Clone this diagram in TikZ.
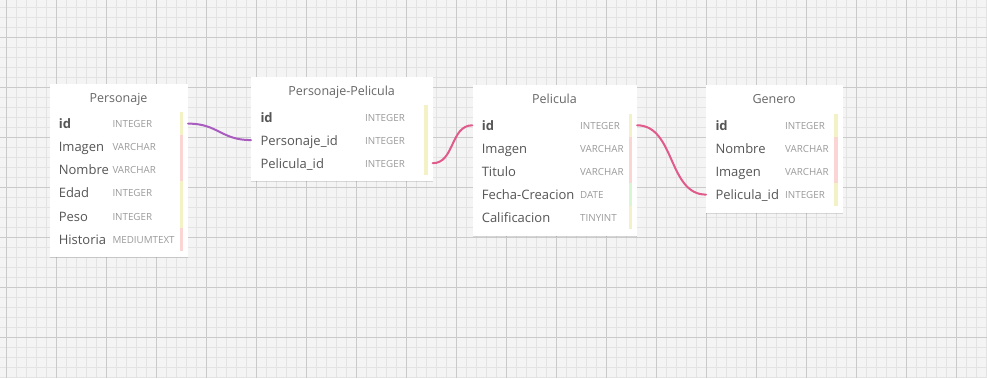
\documentclass[tikz,border=0pt]{standalone}
\usepackage{fontspec}
\setmainfont{Open Sans}
\usetikzlibrary{shadows}

\definecolor{paper}{HTML}{F4F4F4}
\definecolor{gridminor}{HTML}{E3E3E3}
\definecolor{gridmajor}{HTML}{CACACA}
\definecolor{barY}{HTML}{F3F1C6}
\definecolor{barP}{HTML}{FBD4D4}
\definecolor{barG}{HTML}{D9F5D3}
\definecolor{linkpurple}{HTML}{A95CC0}
\definecolor{linkpink}{HTML}{E05A8B}
\definecolor{nametext}{HTML}{555555}
\definecolor{typetext}{HTML}{9A9A9A}
\definecolor{titletext}{HTML}{666666}

\tikzset{
  tablebox/.style={rectangle, fill=white, inner sep=0pt, anchor=north west,
    drop shadow={shadow xshift=0pt, shadow yshift=-1pt, opacity=0.12, fill=black}},
  rowbox/.style={rectangle, inner sep=0pt, minimum height=23.1, anchor=west},
  tabletitle/.style={inner sep=0pt, anchor=base, text=titletext,
    font=\fontsize{12.5}{14}\selectfont},
  fieldname/.style={inner sep=0pt, anchor=base west, text=nametext,
    font=\fontsize{13}{15}\selectfont},
  fieldtype/.style={inner sep=0pt, anchor=base west, text=typetext,
    font=\fontsize{9.8}{11}\selectfont},
  link/.style={line width=2pt, line cap=round},
}

% #1 prefix, #2 left, #3 top, #4 width, #5 height, #6 type column offset,
% #7 title, #8 rows as name/type/bar colour
\newcommand\dbtable[8]{%
  \node[tablebox, minimum width=#4, minimum height=#5] (#1) at (#2,#3) {};
  \node[tabletitle] (#1-title) at (#2+#4/2,#3+18.7) {#7};
  \foreach \fname/\ftype/\fcol [count=\i] in {#8} {
    \pgfmathsetmacro\ry{#3+40.3+(\i-1)*23.1}
    \node[rowbox, minimum width=#4] (#1-\i) at (#2,\ry) {};
    \fill[\fcol] (#2+#4-8,\ry-11.55) rectangle (#2+#4-4.3,\ry+11.55);
    \node[fieldname] (#1-\i-name) at (#2+9.3,\ry+5) {\ifnum\i=1 \bfseries\fi\fname};
    \node[fieldtype] (#1-\i-type) at (#2+#6,\ry+4) {\ftype};
  }
}

\begin{document}
\begin{tikzpicture}[x=1pt,y=-1pt]
  \useasboundingbox (0,0) rectangle (987,378);
  % squared paper
  \fill[paper] (0,0) rectangle (987,378);
  \foreach \gx in {6,16,...,986} \draw[gridminor, line width=1pt] (\gx,0) -- (\gx,378);
  \foreach \gy in {7,17,...,377} \draw[gridminor, line width=1pt] (0,\gy) -- (987,\gy);
  \foreach \gx in {6,56,...,986} \draw[gridmajor, line width=1pt] (\gx,0) -- (\gx,378);
  \foreach \gy in {37,87,...,337} \draw[gridmajor, line width=1pt] (0,\gy) -- (987,\gy);

  % tables
  \dbtable{per}{49.3}{83.3}{138.4}{173.4}{63}{Personaje}{%
    id/INTEGER/barY, Imagen/VARCHAR/barP, Nombre/VARCHAR/barP,
    Edad/INTEGER/barY, Peso/INTEGER/barY, Historia/MEDIUMTEXT/barP}
  \dbtable{pp}{251}{76.7}{181.3}{104.3}{114}{Personaje-Pelicula}{%
    id/INTEGER/barY, Personaje\_id/INTEGER/barY, Pelicula\_id/INTEGER/barY}
  \dbtable{pel}{472.3}{85}{164.4}{150.7}{107.7}{Pelicula}{%
    id/INTEGER/barY, Imagen/VARCHAR/barP, Titulo/VARCHAR/barP,
    Fecha-Creacion/DATE/barG, Calificacion/TINYINT/barY}
  \dbtable{gen}{706}{85}{136.3}{127.3}{79}{Genero}{%
    id/INTEGER/barY, Nombre/VARCHAR/barP, Imagen/VARCHAR/barP,
    Pelicula\_id/INTEGER/barY}

  % relations
  \draw[link, linkpurple] (per-1.east) .. controls +(30,0) and +(-30,0) .. (pp-2.west);
  \draw[link, linkpink] (pp-3.east) .. controls +(22,0) and +(-22,0) .. (pel-1.west);
  \draw[link, linkpink] (pel-1.east) .. controls +(38,0) and +(-38,0) .. (gen-4.west);
\end{tikzpicture}
\end{document}
